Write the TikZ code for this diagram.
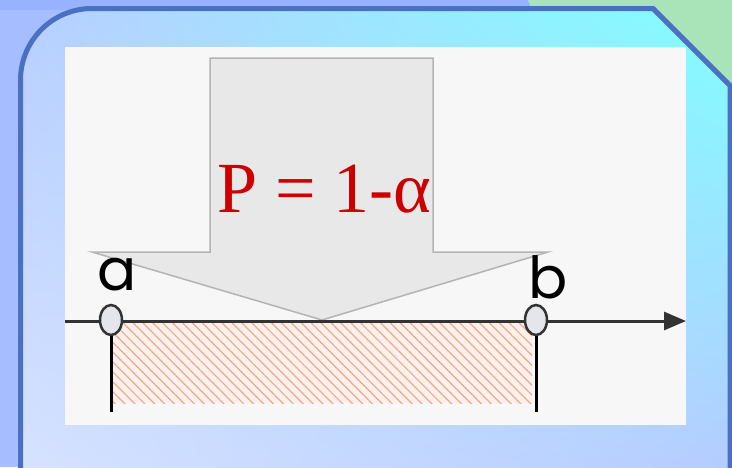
\documentclass[tikz,border=0pt]{standalone}
\usepackage{fontspec}
\setmainfont{Liberation Serif}
\newfontfamily\labfont{Poppins}
\usetikzlibrary{patterns.meta,arrows.meta,shapes.geometric,shadings}
\definecolor{outblue}{HTML}{A6BEFF}
\definecolor{topblue}{HTML}{98B2FF}
\definecolor{outgreen}{HTML}{A8E4B8}
\definecolor{framecol}{HTML}{4A70C2}
\definecolor{panel}{HTML}{F7F7F7}
\definecolor{arrowfill}{HTML}{E8E8E8}
\definecolor{arrowline}{HTML}{B4B4B4}
\definecolor{hatchcol}{HTML}{F2A88A}
\definecolor{hatchbg}{HTML}{FAF0EC}
\definecolor{ptred}{HTML}{CC0000}
\definecolor{ptfill}{HTML}{E4E6EC}
\definecolor{axiscol}{HTML}{333333}
\definecolor{gul}{HTML}{B8CEFF}
\definecolor{gur}{HTML}{80FFFF}
\definecolor{gll}{HTML}{D6E2FF}
\definecolor{glr}{HTML}{B4CCFF}
\tikzset{
  framestyle/.style={draw=framecol,line width=5pt,line join=miter},
  bigarrow/.style={fill=arrowfill,draw=arrowline,line width=1.5pt},
  endpt/.style={ellipse,minimum width=22pt,minimum height=30pt,inner sep=0pt,fill=ptfill,draw=axiscol,line width=2.5pt},
  lab/.style={font=\labfont\fontsize{58}{60}\selectfont,inner sep=0pt,anchor=base,text=black},
  vline/.style={line width=3pt,black},
}
\begin{document}
\begin{tikzpicture}[x=1pt,y=-1pt]
\useasboundingbox (0,0) rectangle (732,467);
% outside background
\fill[outblue] (0,0) rectangle (732,467);
\fill[topblue] (0,0) rectangle (540,10);
\fill[outgreen] (528,0) -- (732,0) -- (732,92) -- (653,10) -- (532,10) -- cycle;
% interior gradient
\begin{scope}
\clip (20.5,470) -- (20.5,80) arc[start angle=180,end angle=270,radius=71.5] -- (653,8.5) -- (730,85.5) -- (730,470) -- cycle;
\shade[upper left=gul,upper right=gur,lower left=gll,lower right=glr] (20,8) rectangle (732,467);
\end{scope}
% frame
\draw[framestyle] (20.5,470) -- (20.5,80) arc[start angle=180,end angle=270,radius=71.5] -- (653,8.5) -- (730,85.5) -- (730,470);
% white panel
\fill[panel] (65,47) rectangle (686,425);
% hatched interval
\fill[hatchbg] (113,322) rectangle (532,403);
\fill[pattern={Lines[angle=-45,distance=7pt,line width=1.2pt]},pattern color=hatchcol] (113,322) rectangle (532,403);
% big arrow
\draw[bigarrow] (210,58) -- (433,58) -- (433,252) -- (548,252) -- (322,320) -- (92,252) -- (210,252) -- cycle;
% text
\node[text=ptred,font=\fontsize{72}{74}\selectfont,inner sep=0pt,anchor=base] (prob) at (324.5,212) {P = 1-α};
% axis
\coordinate (axstart) at (65,321);
\coordinate (axend) at (686,321);
\draw[line width=3pt,axiscol,-{Triangle[length=22pt,width=18pt]}] (axstart) -- (axend);
% endpoints
\node[endpt] (pa) at (111,320) {};
\node[endpt] (pb) at (536,320) {};
\coordinate (ea) at (111,412);
\coordinate (eb) at (536,412);
\draw[vline] (pa.south) -- (ea);
\draw[vline] (pb.south) -- (eb);
% labels
\node[lab] (la) at (117,290) {a};
\node[lab] (lb) at (548,298) {b};
\end{tikzpicture}
\end{document}
